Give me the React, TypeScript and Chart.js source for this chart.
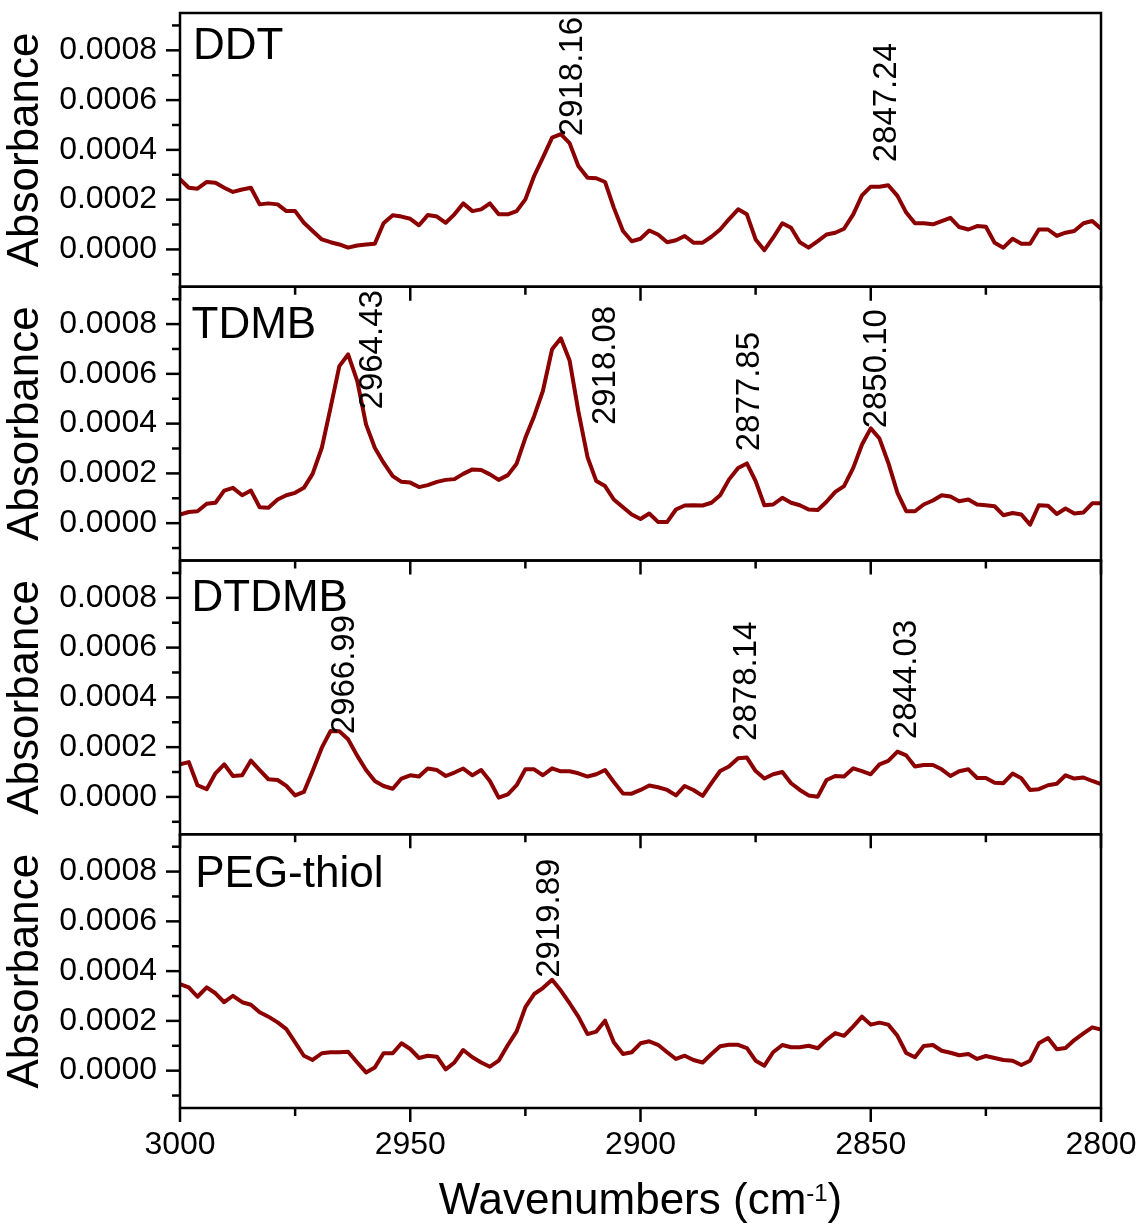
import React, { useEffect, useRef } from 'react';
import { Chart, registerables } from 'chart.js';

Chart.register(...registerables);

const FONT = '"Liberation Sans", Arial, sans-serif';

// Wavenumbers (cm-1), evenly sampled from 3000 to 2800
const wavenumbers = [
  3000.0, 2998.1, 2996.2, 2994.2, 2992.3, 2990.4, 2988.5, 2986.5, 2984.6, 2982.7,
  2980.8, 2978.8, 2976.9, 2975.0, 2973.1, 2971.2, 2969.2, 2967.3, 2965.4, 2963.5,
  2961.5, 2959.6, 2957.7, 2955.8, 2953.8, 2951.9, 2950.0, 2948.1, 2946.2, 2944.2,
  2942.3, 2940.4, 2938.5, 2936.5, 2934.6, 2932.7, 2930.8, 2928.8, 2926.9, 2925.0,
  2923.1, 2921.2, 2919.2, 2917.3, 2915.4, 2913.5, 2911.5, 2909.6, 2907.7, 2905.8,
  2903.8, 2901.9, 2900.0, 2898.1, 2896.2, 2894.2, 2892.3, 2890.4, 2888.5, 2886.5,
  2884.6, 2882.7, 2880.8, 2878.8, 2876.9, 2875.0, 2873.1, 2871.2, 2869.2, 2867.3,
  2865.4, 2863.5, 2861.5, 2859.6, 2857.7, 2855.8, 2853.8, 2851.9, 2850.0, 2848.1,
  2846.2, 2844.2, 2842.3, 2840.4, 2838.5, 2836.5, 2834.6, 2832.7, 2830.8, 2828.8,
  2826.9, 2825.0, 2823.1, 2821.2, 2819.2, 2817.3, 2815.4, 2813.5, 2811.5, 2809.6,
  2807.7, 2805.8, 2803.8, 2801.9, 2800.0,
];

const ddt = [
  2.82e-4, 2.48e-4, 2.44e-4, 2.71e-4, 2.68e-4, 2.48e-4, 2.31e-4, 2.41e-4, 2.48e-4, 1.81e-4,
  1.85e-4, 1.81e-4, 1.54e-4, 1.54e-4, 1.07e-4, 0.74e-4, 0.40e-4, 0.29e-4, 0.20e-4, 0.07e-4,
  0.16e-4, 0.20e-4, 0.23e-4, 1.05e-4, 1.37e-4, 1.32e-4, 1.23e-4, 0.97e-4, 1.38e-4, 1.32e-4,
  1.07e-4, 1.41e-4, 1.85e-4, 1.54e-4, 1.61e-4, 1.85e-4, 1.41e-4, 1.41e-4, 1.54e-4, 2.01e-4,
  2.95e-4, 3.69e-4, 4.49e-4, 4.63e-4, 4.27e-4, 3.35e-4, 2.88e-4, 2.86e-4, 2.71e-4, 1.68e-4,
  0.74e-4, 0.33e-4, 0.43e-4, 0.76e-4, 0.60e-4, 0.29e-4, 0.37e-4, 0.54e-4, 0.27e-4, 0.27e-4,
  0.51e-4, 0.80e-4, 1.21e-4, 1.61e-4, 1.41e-4, 0.40e-4, -0.03e-4, 0.47e-4, 1.05e-4, 0.87e-4,
  0.29e-4, 0.07e-4, 0.33e-4, 0.60e-4, 0.67e-4, 0.83e-4, 1.41e-4, 2.17e-4, 2.52e-4, 2.52e-4,
  2.58e-4, 2.15e-4, 1.48e-4, 1.05e-4, 1.05e-4, 1.01e-4, 1.14e-4, 1.27e-4, 0.90e-4, 0.80e-4,
  0.94e-4, 0.91e-4, 0.27e-4, 0.07e-4, 0.43e-4, 0.23e-4, 0.23e-4, 0.80e-4, 0.80e-4, 0.54e-4,
  0.67e-4, 0.74e-4, 1.05e-4, 1.14e-4, 0.83e-4,
];

const tdmb = [
  0.35e-4, 0.45e-4, 0.48e-4, 0.78e-4, 0.82e-4, 1.31e-4, 1.42e-4, 1.12e-4, 1.31e-4, 0.64e-4,
  0.62e-4, 0.95e-4, 1.12e-4, 1.22e-4, 1.42e-4, 1.98e-4, 3.03e-4, 4.64e-4, 6.31e-4, 6.78e-4,
  5.71e-4, 3.97e-4, 3.03e-4, 2.43e-4, 1.89e-4, 1.66e-4, 1.63e-4, 1.45e-4, 1.53e-4, 1.66e-4,
  1.74e-4, 1.77e-4, 1.98e-4, 2.16e-4, 2.14e-4, 1.96e-4, 1.74e-4, 1.93e-4, 2.39e-4, 3.43e-4,
  4.30e-4, 5.31e-4, 6.99e-4, 7.43e-4, 6.54e-4, 4.50e-4, 2.65e-4, 1.69e-4, 1.49e-4, 0.95e-4,
  0.64e-4, 0.35e-4, 0.17e-4, 0.39e-4, 0.05e-4, 0.05e-4, 0.55e-4, 0.71e-4, 0.72e-4, 0.71e-4,
  0.82e-4, 1.12e-4, 1.75e-4, 2.22e-4, 2.40e-4, 1.69e-4, 0.72e-4, 0.75e-4, 1.02e-4, 0.82e-4,
  0.72e-4, 0.55e-4, 0.53e-4, 0.86e-4, 1.26e-4, 1.49e-4, 2.22e-4, 3.16e-4, 3.81e-4, 3.40e-4,
  2.43e-4, 1.22e-4, 0.48e-4, 0.48e-4, 0.75e-4, 0.91e-4, 1.12e-4, 1.07e-4, 0.88e-4, 0.95e-4,
  0.75e-4, 0.72e-4, 0.68e-4, 0.32e-4, 0.41e-4, 0.35e-4, -0.06e-4, 0.72e-4, 0.70e-4, 0.37e-4,
  0.59e-4, 0.39e-4, 0.43e-4, 0.80e-4, 0.80e-4,
];

const dtdmb = [
  1.31e-4, 1.40e-4, 0.47e-4, 0.31e-4, 0.95e-4, 1.31e-4, 0.84e-4, 0.87e-4, 1.46e-4, 1.08e-4,
  0.71e-4, 0.68e-4, 0.44e-4, 0.06e-4, 0.20e-4, 1.04e-4, 1.98e-4, 2.65e-4, 2.64e-4, 2.32e-4,
  1.65e-4, 1.08e-4, 0.64e-4, 0.44e-4, 0.33e-4, 0.74e-4, 0.87e-4, 0.82e-4, 1.14e-4, 1.08e-4,
  0.84e-4, 0.98e-4, 1.14e-4, 0.87e-4, 1.08e-4, 0.64e-4, -0.03e-4, 0.10e-4, 0.47e-4, 1.11e-4,
  1.11e-4, 0.87e-4, 1.15e-4, 1.03e-4, 1.03e-4, 0.95e-4, 0.82e-4, 0.91e-4, 1.08e-4, 0.60e-4,
  0.14e-4, 0.13e-4, 0.28e-4, 0.46e-4, 0.39e-4, 0.28e-4, 0.06e-4, 0.44e-4, 0.28e-4, 0.04e-4,
  0.55e-4, 1.04e-4, 1.22e-4, 1.55e-4, 1.58e-4, 1.04e-4, 0.74e-4, 0.91e-4, 1.00e-4, 0.55e-4,
  0.28e-4, 0.06e-4, 0.01e-4, 0.68e-4, 0.84e-4, 0.82e-4, 1.15e-4, 1.04e-4, 0.91e-4, 1.31e-4,
  1.45e-4, 1.82e-4, 1.67e-4, 1.22e-4, 1.28e-4, 1.28e-4, 1.11e-4, 0.84e-4, 1.03e-4, 1.11e-4,
  0.76e-4, 0.76e-4, 0.57e-4, 0.55e-4, 0.94e-4, 0.75e-4, 0.28e-4, 0.31e-4, 0.47e-4, 0.53e-4,
  0.87e-4, 0.74e-4, 0.78e-4, 0.64e-4, 0.51e-4,
];

const pegThiol = [
  3.48e-4, 3.35e-4, 2.97e-4, 3.35e-4, 3.11e-4, 2.75e-4, 3.01e-4, 2.75e-4, 2.65e-4, 2.35e-4,
  2.17e-4, 1.94e-4, 1.67e-4, 1.14e-4, 0.60e-4, 0.43e-4, 0.70e-4, 0.74e-4, 0.74e-4, 0.76e-4,
  0.33e-4, -0.07e-4, 0.13e-4, 0.70e-4, 0.70e-4, 1.10e-4, 0.87e-4, 0.51e-4, 0.60e-4, 0.56e-4,
  0.05e-4, 0.33e-4, 0.83e-4, 0.54e-4, 0.33e-4, 0.16e-4, 0.40e-4, 1.03e-4, 1.58e-4, 2.55e-4,
  3.08e-4, 3.32e-4, 3.65e-4, 3.22e-4, 2.71e-4, 2.17e-4, 1.47e-4, 1.57e-4, 2.01e-4, 1.14e-4,
  0.67e-4, 0.74e-4, 1.10e-4, 1.18e-4, 1.04e-4, 0.74e-4, 0.47e-4, 0.60e-4, 0.43e-4, 0.33e-4,
  0.67e-4, 0.98e-4, 1.04e-4, 1.04e-4, 0.91e-4, 0.40e-4, 0.20e-4, 0.74e-4, 1.03e-4, 0.94e-4,
  0.94e-4, 1.00e-4, 0.90e-4, 1.24e-4, 1.51e-4, 1.40e-4, 1.78e-4, 2.17e-4, 1.85e-4, 1.93e-4,
  1.85e-4, 1.40e-4, 0.71e-4, 0.54e-4, 0.99e-4, 1.03e-4, 0.80e-4, 0.72e-4, 0.62e-4, 0.67e-4,
  0.47e-4, 0.59e-4, 0.51e-4, 0.43e-4, 0.40e-4, 0.23e-4, 0.40e-4, 1.10e-4, 1.31e-4, 0.86e-4,
  0.91e-4, 1.23e-4, 1.50e-4, 1.74e-4, 1.65e-4,
];

const seriesList = [ddt, tdmb, dtdmb, pegThiol];
const panelNames = ['DDT', 'TDMB', 'DTDMB', 'PEG-thiol'];
const yAxisIds = ['y0', 'y1', 'y2', 'y3'];

// Panel name anchors (data coords: wavenumber, absorbance of baseline)
const panelLabelX = [2997.2, 2997.5, 2997.5, 2996.7];
const panelLabelY = [7.65e-4, 7.46e-4, 7.48e-4, 7.38e-4];

// Peak labels: panel index, text, centre wavenumber, absorbance where text starts
const peakPanels = [0, 0, 1, 1, 1, 1, 2, 2, 2, 3];
const peakTexts = ['2918.16', '2847.24', '2964.43', '2918.08', '2877.85', '2850.10', '2966.99', '2878.14', '2844.03', '2919.89'];
const peakX = [2915.2, 2847.1, 2958.7, 2908.2, 2876.9, 2849.3, 2964.7, 2877.5, 2842.8, 2920.2];
const peakY = [4.55e-4, 3.5e-4, 4.57e-4, 3.94e-4, 2.89e-4, 3.81e-4, 2.52e-4, 2.25e-4, 2.32e-4, 3.73e-4];

const xMajorTicks = [3000, 2950, 2900, 2850, 2800];
const xMinorTicks = [2975, 2925, 2875, 2825];
const yMajorTicks = [0, 0.0002, 0.0004, 0.0006, 0.0008];
const yMinorTicks = [-0.0001, 0.0001, 0.0003, 0.0005, 0.0007, 0.0009];

const LINE_COLOR = '#8B0000';

const overlayPlugin = {
  id: 'overlay',
  afterDatasetsDraw(chart: any) {
    const ctx = chart.ctx as CanvasRenderingContext2D;
    const { left, right } = chart.chartArea;
    const xs = chart.scales.x;
    ctx.save();
    ctx.strokeStyle = '#000';
    ctx.fillStyle = '#000';
    ctx.lineWidth = 2.5;
    ctx.lineCap = 'butt';
    const seg = (x1: number, y1: number, x2: number, y2: number) => {
      ctx.beginPath();
      ctx.moveTo(x1, y1);
      ctx.lineTo(x2, y2);
      ctx.stroke();
    };
    yAxisIds.forEach((id, i) => {
      const ys = chart.scales[id];
      const top = ys.top;
      const bottom = ys.bottom;
      ctx.strokeRect(left, top, right - left, bottom - top);
      yMajorTicks.forEach((v) => {
        const py = ys.getPixelForValue(v);
        seg(left - 14, py, left, py);
      });
      yMinorTicks.forEach((v) => {
        const py = ys.getPixelForValue(v);
        seg(left - 8, py, left, py);
      });
      xMajorTicks.forEach((v) => {
        const px = xs.getPixelForValue(v);
        seg(px, bottom, px, bottom + 14);
      });
      xMinorTicks.forEach((v) => {
        const px = xs.getPixelForValue(v);
        seg(px, bottom, px, bottom + 8);
      });
      ctx.font = `44px ${FONT}`;
      ctx.textAlign = 'left';
      ctx.textBaseline = 'alphabetic';
      ctx.fillText(panelNames[i], xs.getPixelForValue(panelLabelX[i]), ys.getPixelForValue(panelLabelY[i]));
    });

    // peak labels (rotated)
    const peakFont = 33;
    const cap = 0.716 * peakFont;
    ctx.font = `${peakFont}px ${FONT}`;
    peakTexts.forEach((t, k) => {
      const ys = chart.scales[yAxisIds[peakPanels[k]]];
      const bx = xs.getPixelForValue(peakX[k]) + cap / 2;
      const by = ys.getPixelForValue(peakY[k]);
      ctx.save();
      ctx.translate(bx, by);
      ctx.rotate(-Math.PI / 2);
      ctx.textAlign = 'left';
      ctx.textBaseline = 'alphabetic';
      ctx.fillText(t, 0, 0);
      ctx.restore();
    });

    // x-axis title with superscript
    const mainFont = `44px ${FONT}`;
    const supFont = `24px ${FONT}`;
    const p1 = 'Wavenumbers (cm';
    const p2 = '-1';
    const p3 = ')';
    ctx.font = mainFont;
    const w1 = ctx.measureText(p1).width;
    const w3 = ctx.measureText(p3).width;
    ctx.font = supFont;
    const w2 = ctx.measureText(p2).width;
    const total = w1 + w2 + w3;
    const cx = (left + right) / 2;
    let x0 = cx - total / 2;
    const baseY = 1214;
    ctx.textAlign = 'left';
    ctx.textBaseline = 'alphabetic';
    ctx.font = mainFont;
    ctx.fillText(p1, x0, baseY);
    x0 += w1;
    ctx.font = supFont;
    ctx.fillText(p2, x0, baseY - 13);
    x0 += w2;
    ctx.font = mainFont;
    ctx.fillText(p3, x0, baseY);
    ctx.restore();
  },
};

export default function App() {
  const canvasRef = useRef<HTMLCanvasElement | null>(null);

  useEffect(() => {
    if (!canvasRef.current) return;
    Chart.defaults.font.family = FONT;
    Chart.defaults.color = '#000';

    const yScales: any = {};
    yAxisIds.forEach((id, i) => {
      yScales[id] = {
        type: 'linear',
        position: 'left',
        stack: 'panels',
        stackWeight: 1,
        weight: 4 - i,
        min: -0.00015,
        max: 0.00095,
        afterBuildTicks: (s: any) => {
          s.ticks = yMajorTicks.map((v) => ({ value: v }));
        },
        ticks: {
          font: { size: 32, family: FONT },
          color: '#000',
          padding: 9,
          autoSkip: false,
          callback: (v: any) => Number(v).toFixed(4),
        },
        grid: {
          display: true,
          drawOnChartArea: false,
          drawTicks: true,
          tickLength: 14,
          color: 'rgba(0,0,0,0)',
        },
        border: { display: false },
        title: {
          display: true,
          text: 'Absorbance',
          color: '#000',
          font: { size: 44, family: FONT, lineHeight: 1 },
          padding: { top: 4, bottom: 0 },
        },
        afterFit: (s: any) => {
          s.width = 180;
          s.paddingTop = 0;
          s.paddingBottom = 0;
        },
      };
    });

    const chart = new Chart(canvasRef.current, {
      type: 'line',
      data: {
        datasets: seriesList.map((series, i) => ({
          label: panelNames[i],
          data: wavenumbers.map((x, j) => ({ x, y: series[j] })),
          xAxisID: 'x',
          yAxisID: yAxisIds[i],
          borderColor: LINE_COLOR,
          backgroundColor: LINE_COLOR,
          borderWidth: 4,
          borderJoinStyle: 'round',
          pointRadius: 0,
          tension: 0,
          fill: false,
        })),
      },
      options: {
        responsive: false,
        animation: false,
        layout: { padding: { left: 0, right: 40, top: 13, bottom: 0 } },
        plugins: {
          legend: { display: false },
          tooltip: { enabled: false },
          title: { display: false },
        },
        scales: {
          x: {
            type: 'linear',
            position: 'bottom',
            min: 2800,
            max: 3000,
            reverse: true,
            afterBuildTicks: (s: any) => {
              s.ticks = xMajorTicks.map((v) => ({ value: v }));
            },
            ticks: {
              font: { size: 32, family: FONT },
              color: '#000',
              padding: 4,
              maxRotation: 0,
              autoSkip: false,
              callback: (v: any) => String(v),
            },
            grid: {
              display: true,
              drawOnChartArea: false,
              drawTicks: true,
              tickLength: 14,
              color: 'rgba(0,0,0,0)',
            },
            border: { display: false },
            afterFit: (s: any) => {
              s.height = 118;
              s.paddingLeft = 0;
              s.paddingRight = 0;
            },
          },
          ...yScales,
        },
      } as any,
      plugins: [overlayPlugin],
    });

    return () => chart.destroy();
  }, []);

  return (
    <div style={{ position: 'absolute', left: 0, top: 0, width: 1141, height: 1226, background: '#fff' }}>
      <canvas ref={canvasRef} width={1141} height={1226} style={{ display: 'block' }} />
    </div>
  );
}
